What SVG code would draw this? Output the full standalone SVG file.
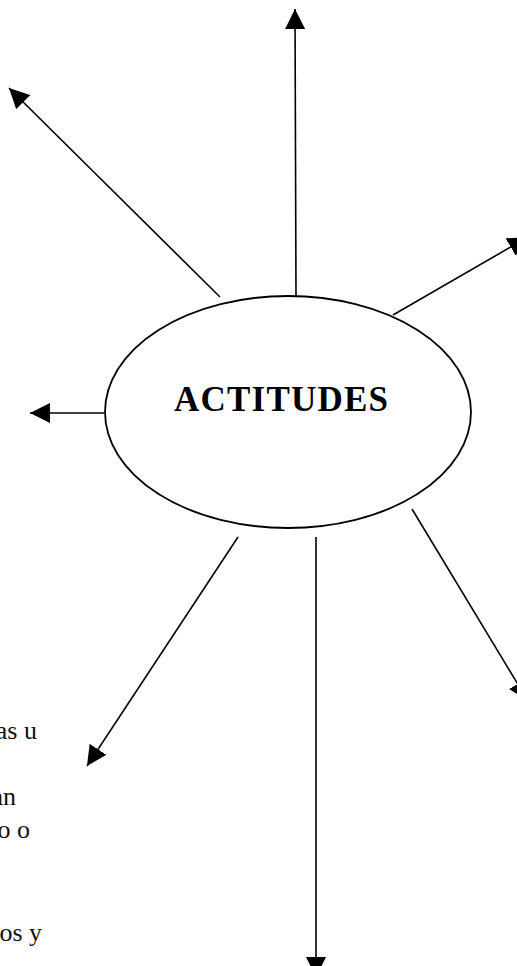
<svg xmlns="http://www.w3.org/2000/svg" width="517" height="966" viewBox="0 0 517 966">
<style>
.conn{stroke:#000;stroke-width:1.6;fill:none;marker-end:url(#ah)}
.node{fill:#fff;stroke:#000;stroke-width:1.8}
.title{font-family:"Liberation Serif","Times New Roman",serif;font-weight:bold;font-size:35px;fill:#000}
.body{font-family:"Liberation Serif","Times New Roman",serif;font-size:26px;fill:#111;text-anchor:end}
</style>
<defs>
<marker id="ah" viewBox="0 0 20 20" refX="20" refY="10" markerWidth="20" markerHeight="20" markerUnits="userSpaceOnUse" orient="auto">
<path d="M0,0 L20,10 L0,20 z" fill="#000"/>
</marker>
</defs>
<rect width="517" height="966" fill="#fff"/>
<g id="connectors">
<line class="conn" x1="296" y1="296" x2="295" y2="9"/>
<line class="conn" x1="220" y1="297" x2="9" y2="88"/>
<line class="conn" x1="393" y1="315" x2="528" y2="237"/>
<line class="conn" x1="104" y1="413" x2="30" y2="413"/>
<line class="conn" x1="238" y1="537" x2="87" y2="766"/>
<line class="conn" x1="316" y1="537" x2="316" y2="977"/>
<line class="conn" x1="412" y1="509" x2="528" y2="701"/>
</g>
<g id="actitudes">
<ellipse class="node" cx="288" cy="412" rx="183" ry="116"/>
<text class="title" x="281" y="411" text-anchor="middle" textLength="214">ACTITUDES</text>
</g>
<g id="side-text">
<text class="body" x="37" y="739">as u</text>
<text class="body" x="16" y="805">an</text>
<text class="body" x="30" y="838">o o</text>
<text class="body" x="42" y="941">os y</text>
</g>
</svg>
